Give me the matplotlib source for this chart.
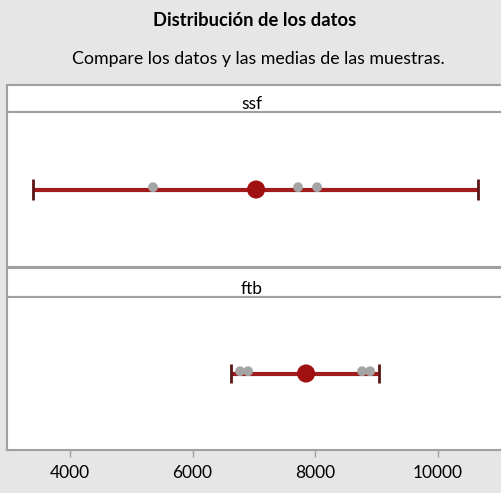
import matplotlib
matplotlib.use("Agg")
import matplotlib.pyplot as plt

plt.rcParams['font.family'] = ['Lato', 'DejaVu Sans']

# muestras y sus intervalos
grupos = ["ssf", "ftb"]
datos = [[5355, 7038, 7722, 8033], [6776, 6906, 8767, 8898]]
medias = [7037, 7853]
ic_inf = [3396, 6629]
ic_sup = [10661, 9045]

W, H = 501, 493
fig = plt.figure(figsize=(W / 100, H / 100), dpi=100, facecolor="#e6e6e6")

def fx(px):
    return px / W

def fy(top, bottom):
    return [1 - bottom / H, (bottom - top) / H]

left = fx(7)
width = 1.1 - left
xmin, xmax = 2971, 11853
gris = "#a0a0a0"

paneles = [((85, 112), (112, 267)), ((268, 297), (297, 450))]
ejes = []
for i, ((s0, s1), (p0, p1)) in enumerate(paneles):
    b, h = fy(s0, s1)
    sx = fig.add_axes([left, b, width, h])
    sx.set_facecolor("white")
    sx.set_xticks([]); sx.set_yticks([])
    for sp in sx.spines.values():
        sp.set_color(gris); sp.set_linewidth(1.5)
    sx.text((fx(252) - left) / width, 0.28, grupos[i], transform=sx.transAxes,
            ha="center", va="center", fontsize=12.5)

    b, h = fy(p0, p1)
    ax = fig.add_axes([left, b, width, h])
    ax.set_facecolor("white")
    for sp in ax.spines.values():
        sp.set_color(gris); sp.set_linewidth(1.5)
    ax.set_xlim(xmin, xmax)
    ax.set_ylim(-1, 1)
    ax.set_yticks([])
    ax.hlines(0, ic_inf[i], ic_sup[i], color="#a01c1c", lw=3, zorder=2)
    ax.vlines([ic_inf[i], ic_sup[i]], -0.13, 0.13, color="#5a1515", lw=2, zorder=3)
    ax.scatter(datos[i], [0.03] * len(datos[i]), s=50, color="#a5a5a5", zorder=4,
               edgecolors="none")
    ax.scatter([medias[i]], [0], s=170, color="#a01010", zorder=5, edgecolors="none")
    ejes.append(ax)

ejes[0].set_xticks([])
ax = ejes[1]
ax.set_xticks([4000, 6000, 8000, 10000])
ax.tick_params(axis="x", length=5, width=1, color=gris, labelsize=12.5, pad=6)

fig.text(fx(255), 1 - 20 / H, "Distribución de los datos", ha="center", va="center",
         fontsize=13.2, fontweight="bold")
fig.text(fx(258), 1 - 59 / H, "Compare los datos y las medias de las muestras.",
         ha="center", va="center", fontsize=12.8)

fig.savefig("out.png", dpi=100, facecolor=fig.get_facecolor())
